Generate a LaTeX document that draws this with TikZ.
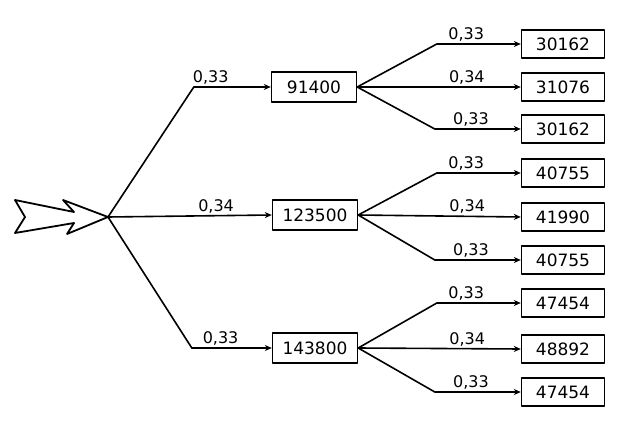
\documentclass[tikz,border=0pt]{standalone}
\usepackage{fontspec}
\setmainfont{DejaVu Sans}
\usetikzlibrary{arrows.meta}

\begin{document}
\begin{tikzpicture}[x=1pt, y=-1pt, >={Stealth[length=7pt,width=6pt]}, line join=round, line cap=round, line width=1.6pt,
	box/.style={draw, line width=1.4pt, minimum width=83pt, minimum height=28pt, inner sep=0pt, font=\fontsize{17}{19}\selectfont},
	prob/.style={above, inner sep=2pt, font=\fontsize{16}{18}\selectfont}]
	\useasboundingbox (0,0) rectangle (631,425);
	% Mũi tên gốc
	\draw[line width=1.8pt] (15,200) -- (74,212) -- (63,200) -- (108,217) -- (67,234) -- (74,223) -- (15,233) -- (25,217) -- cycle;
	\coordinate (root) at (108,217);
	% Nút cấp 1
	\node[box, minimum width=85pt, minimum height=30pt] (a1) at (314,87) {91400};
	\node[box, minimum width=85pt, minimum height=30pt] (a2) at (315,215) {123500};
	\node[box, minimum width=85pt, minimum height=30pt] (a3) at (315,348) {143800};
	% Nút cấp 2
	\node[box] (b1) at (563,44) {30162};
	\node[box] (b2) at (563,87) {31076};
	\node[box] (b3) at (563,129) {30162};
	\node[box] (c1) at (563,173) {40755};
	\node[box] (c2) at (563,217) {41990};
	\node[box] (c3) at (563,260) {40755};
	\node[box] (d1) at (563,303) {47454};
	\node[box] (d2) at (563,349) {48892};
	\node[box] (d3) at (563,392) {47454};
	% Nhánh cấp 1
	\draw[->] (root) -- ([xshift=-77pt]a1.west) -- node[prob, pos=0.22] {0,33} (a1.west);
	\draw[->] (root) -- node[prob, pos=0.66] {0,34} (a2.west);
	\draw[->] (root) -- ([xshift=-80pt]a3.west) -- node[prob, pos=0.36] {0,33} (a3.west);
	% Nhánh cấp 2
	\foreach \p/\q in {a1/b, a2/c, a3/d} {
		\draw[->] (\p.east) -- ([xshift=-84pt]\q1.west) -- node[prob, pos=0.35] {0,33} (\q1.west);
		\draw[->] (\p.east) -- node[prob, pos=0.67] {0,34} (\q2.west);
		\draw[->] (\p.east) -- ([xshift=-86pt]\q3.west) -- node[prob, pos=0.42] {0,33} (\q3.west);
	}
\end{tikzpicture}
\end{document}
